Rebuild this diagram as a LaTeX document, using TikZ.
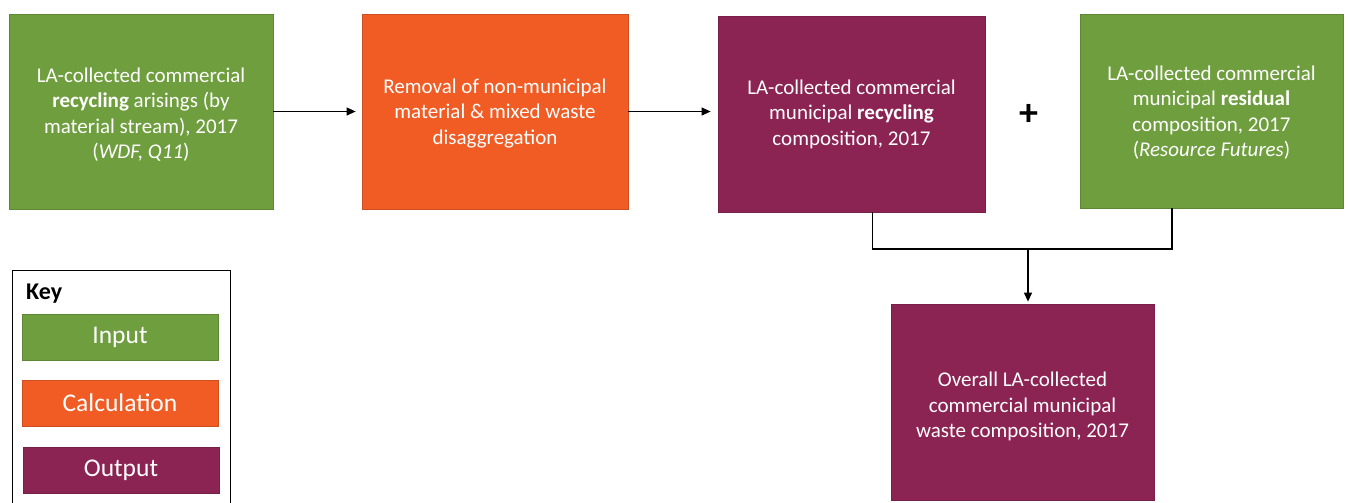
\documentclass[tikz,border=0pt]{standalone}
\usepackage{fontspec}
\setmainfont{Carlito}
\usetikzlibrary{arrows.meta}
\definecolor{ingreen}{HTML}{6F9E3E}
\definecolor{calcorange}{HTML}{F15C25}
\definecolor{outpurple}{HTML}{8C2453}
\tikzset{
  box/.style={rectangle, text=white, align=center, inner sep=0pt,
    font=\fontsize{21}{25.5}\selectfont, line width=0.8pt},
  inbox/.style={box, fill=ingreen, draw=ingreen!85!black},
  calcbox/.style={box, fill=calcorange, draw=calcorange!85!black},
  outbox/.style={box, fill=outpurple, draw=outpurple!85!black},
  boxtext/.style={text=white, align=center, inner sep=0pt,
    font=\fontsize{21}{25.5}\selectfont},
  keybox/.style={minimum width=196pt, minimum height=46pt,
    font=\fontsize{25.5}{28}\selectfont},
  flow/.style={line width=1.2pt, -{Triangle[length=9pt,width=8pt]}},
  link/.style={line width=1.2pt},
}
\begin{document}
\begin{tikzpicture}[x=1pt,y=-1pt]
\useasboundingbox (0,0) rectangle (1349,503);
% main boxes
\node[inbox, minimum width=264pt, minimum height=195pt] (rec) at (141,111.5) {};
\node[boxtext] (rectext) at ([yshift=-3pt]rec.center)
  {LA-collected commercial\\\textbf{recycling} arisings (by\\material stream), 2017\\(\textit{WDF, Q11})};
\node[calcbox, minimum width=266pt, minimum height=195pt] (calc) at (495,111.5) {};
\node[boxtext] (calctext) at ([yshift=-2pt]calc.center)
  {Removal of non-municipal\\material \& mixed waste\\disaggregation};
\node[outbox, minimum width=267pt, minimum height=196pt] (recout) at (851.5,114)
  {LA-collected commercial\\municipal \textbf{recycling}\\composition, 2017};
\node[font=\fontsize{38}{38}\selectfont\bfseries, inner sep=0pt] (plus) at (1029,115) {+};
\node[inbox, minimum width=263pt, minimum height=194pt] (resid) at (1211.5,111) {};
\node[boxtext] (residtext) at ([yshift=-1.5pt]resid.center)
  {LA-collected commercial\\municipal \textbf{residual}\\composition, 2017\\(\textit{Resource Futures})};
\node[outbox, minimum width=263pt, minimum height=196pt] (overall) at (1022.5,402) {};
\node[boxtext] (overalltext) at ([yshift=-4.5pt]overall.center)
  {Overall LA-collected\\commercial municipal\\waste composition, 2017};
% connectors
\draw[flow, shorten >=6pt] (rec.east) -- (calc.west);
\draw[flow, shorten >=7pt] (calc.east) -- (recout.west |- calc.east);
\coordinate (join) at (1028,249);
\draw[link] ([xshift=21pt]recout.south) |- (join) -| ([xshift=-39.5pt]resid.south);
\draw[flow, shorten >=2pt] (join) -- (join |- overall.north);
% key
\draw[line width=1pt] (12,503) -- (12,270) -- (230,270) -- (230,503);
\node[anchor=west, font=\fontsize{24}{26}\selectfont\bfseries, inner sep=0pt] (keylabel) at (26,294) {Key};
\node[inbox, keybox] (kin) at (120,337.5) {Input};
\node[calcbox, keybox] (kcalc) at (120,403) {Calculation};
\node[outbox, keybox] (kout) at (121,470) {Output};
\end{tikzpicture}
\end{document}
